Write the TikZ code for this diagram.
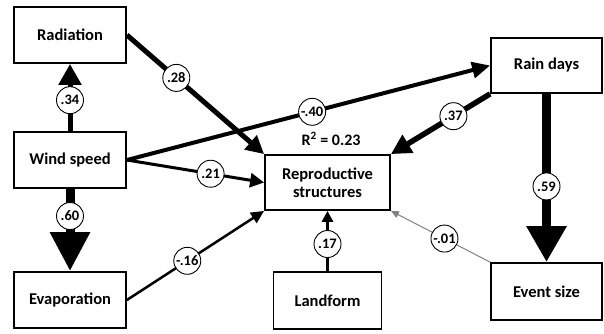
\documentclass[tikz,border=0pt]{standalone}
\usepackage{fontspec}
\setmainfont{Carlito}
\usetikzlibrary{arrows.meta}
\begin{document}
\begin{tikzpicture}[x=1pt,y=-1pt,
  box/.style={draw, line width=1.8pt, align=center, inner sep=0pt,
    font=\bfseries\fontsize{16.5}{18}\selectfont},
  lab/.style={circle, draw=black, text=black, fill=white, line width=0.9pt, minimum size=27pt,
    inner sep=0pt, font=\bfseries\fontsize{14.5}{14.5}\selectfont}]
\useasboundingbox (0,0) rectangle (604,333);
\node[box, minimum width=112pt, minimum height=56pt] (rad) at (70,35) {Radiation};
\node[box, minimum width=112pt, minimum height=56pt] (wind) at (70,160) {Wind speed};
\node[box, minimum width=112pt, minimum height=56pt] (evap) at (70,300) {Evaporation};
\node[box, minimum width=125pt, minimum height=55pt] (rep) at (327.5,182.5) {Reproductive\\structures};
\node[box, minimum width=108pt, minimum height=57pt] (land) at (327.5,300.5) {Landform};
\node[box, minimum width=111pt, minimum height=55pt] (rain) at (546.5,65.5) {Rain days};
\node[box, minimum width=111pt, minimum height=57pt] (event) at (546.5,291.5) {Event size};
\node[font=\bfseries\fontsize{16}{17}\selectfont] (r2) at (331,139) {R\textsuperscript{2} = 0.23};

\draw[line width=5pt, -{Triangle[length=21pt,width=22pt]}] (wind.north) -- (rad.south) node[lab,pos=0.46]{.34};
\draw[line width=9pt, -{Triangle[length=39pt,width=38pt]}] (wind.south) -- (evap.north) node[lab,pos=0.33]{.60};
\draw[line width=5pt, -{Triangle[length=18pt,width=18pt]}] (rad.east) -- (rep.north west) node[lab,pos=0.36]{.28};
\draw[line width=4pt, -{Triangle[length=18pt,width=16pt]}] (wind.east) -- (rain.west) node[lab,pos=0.51]{-.40};
\draw[line width=3pt, -{Triangle[length=14pt,width=14pt]}] (wind.east) -- (rep.west) node[lab,pos=0.61]{.21};
\draw[line width=2.5pt, -{Triangle[length=13pt,width=12pt]}] (evap.east) -- (rep.south west) node[lab,pos=0.44]{-.16};
\draw[line width=3pt, -{Triangle[length=11pt,width=11pt]}] (land.north) -- (rep.south) node[lab,pos=0.45]{.17};
\draw[line width=5.5pt, -{Triangle[length=20pt,width=20pt]}] (rain.south west) -- (rep.north east) node[lab,pos=0.37]{.37};
\draw[line width=9pt, -{Triangle[length=36pt,width=38pt]}] (rain.south) -- (event.north) node[lab,pos=0.55]{.59};
\draw[draw=gray, line width=1pt, -{Triangle[length=8pt,width=7pt]}] (event.north west) -- (rep.south east) node[lab,pos=0.46]{-.01};
\end{tikzpicture}
\end{document}
